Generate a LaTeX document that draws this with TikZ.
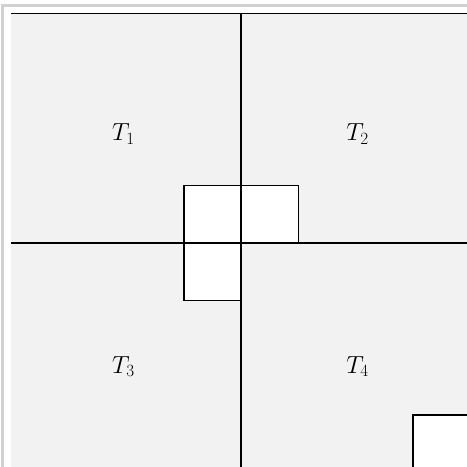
\documentclass[tikz,border=0pt]{standalone}

\begin{document}
\begin{tikzpicture}[x=0.8in, y=0.8in,
  cell/.style={fill=white, draw=black, line width=1.8pt},
  split/.style={black, line width=1.7pt},
  lbl/.style={inner sep=0pt, font=\fontsize{24}{28}\selectfont}]
\useasboundingbox (-4.199,-3.902) rectangle (3.920,4.233);
% outer frame
\draw[black!18, line width=3pt] (-4.155,-4.5) -- (-4.155,4.138) -- (4.5,4.138);
\fill[black!5] (-4,-4) rectangle (4,4);
\draw[split] (-4,4) -- (4,4);
% white cells
\draw[cell] (-1,0) rectangle (0,1);
\draw[cell] (0,0) rectangle (1,1);
\draw[cell] (-1,-1) rectangle (0,0);
\draw[cell] (3,-4) rectangle (4,-3);
% quadrant lines
\draw[split] (-4,0) -- (4,0);
\draw[split] (0,-4) -- (0,4);
\node[lbl] (t1) at (-2.05,1.9) {$T_1$};
\node[lbl] (t2) at (2.03,1.9) {$T_2$};
\node[lbl] (t3) at (-2.05,-2.15) {$T_3$};
\node[lbl] (t4) at (2.03,-2.15) {$T_4$};
\end{tikzpicture}
\end{document}
